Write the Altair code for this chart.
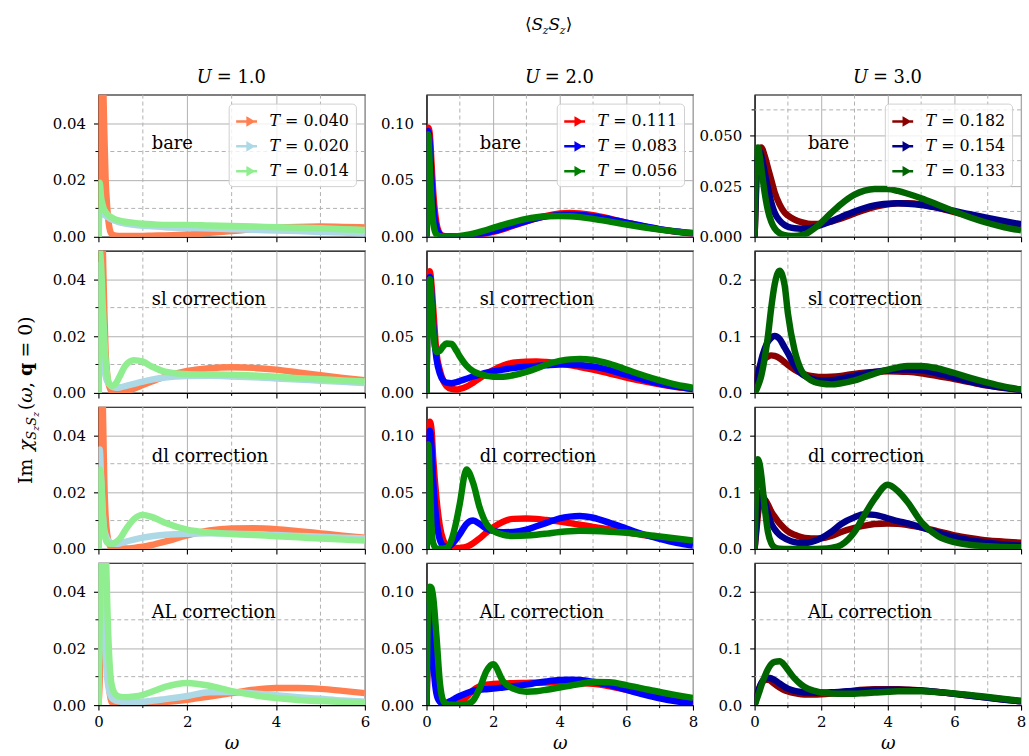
import altair as alt
import pandas as pd

FONT = "DejaVu Serif"
PANEL_W, PANEL_H = 268, 143
GRID = "#b0b0b0"

# ---- frequency grids -------------------------------------------------------
W_U1 = [0, 0.03, 0.06, 0.1, 0.13, 0.16, 0.2, 0.25, 0.3, 0.4, 0.5, 0.6, 0.8, 1.0,
        1.2, 1.5, 2.0, 2.5, 3.0, 3.5, 4.0, 4.5, 5.0, 5.5, 6.0]
W_U23 = [0, 0.05, 0.1, 0.15, 0.2, 0.3, 0.4, 0.5, 0.6, 0.75, 0.9, 1.0, 1.2, 1.4,
         1.6, 1.8, 2.0, 2.3, 2.6, 3.0, 3.3, 3.6, 4.0, 4.3, 4.6, 5.0, 5.5, 6.0,
         6.5, 7.0, 7.5, 8.0]

# ---- temperatures and colours per U ----------------------------------------
T_U1 = ["0.040", "0.020", "0.014"]
T_U2 = ["0.111", "0.083", "0.056"]
T_U3 = ["0.182", "0.154", "0.133"]
C_U1 = ["#ff7f50", "#add8e6", "#90ee90"]
C_U2 = ["#ff0000", "#0000ff", "#008000"]
C_U3 = ["#8b0000", "#00008b", "#006400"]

# ---- U = 1.0 ----------------------------------------------------------------
bare_u1_t040 = [0, 0.03, 0.08, 0.06, 0.038, 0.021, 0.01, 0.003, 0.001, 0.0004, 0.0003, 0.0003, 0.0003,
                0.0003, 0.0004, 0.0005, 0.0008, 0.0014, 0.002, 0.0027, 0.0032, 0.0035, 0.0036, 0.0035, 0.0033]
bare_u1_t020 = [0, 0.009, 0.0088, 0.0082, 0.0078, 0.0074, 0.007, 0.0065, 0.0061, 0.0055, 0.005, 0.0047,
                0.0042, 0.0039, 0.0037, 0.0034, 0.0031, 0.0029, 0.0027, 0.0025, 0.0022, 0.002, 0.0017, 0.0015, 0.0012]
bare_u1_t014 = [0, 0.019, 0.014, 0.011, 0.0095, 0.0088, 0.008, 0.0073, 0.0068, 0.006, 0.0056, 0.0053,
                0.0049, 0.0046, 0.0044, 0.0042, 0.0042, 0.004, 0.0038, 0.0036, 0.0034, 0.0032, 0.003, 0.0027, 0.0024]

sl_u1_t040 = [0, 0.04, 0.09, 0.05, 0.03, 0.015, 0.006, 0.002, 0.0005, 0.0002, 0.0003, 0.0006, 0.0015,
              0.0028, 0.004, 0.0057, 0.0077, 0.0087, 0.009, 0.0088, 0.0082, 0.0072, 0.0062, 0.0053, 0.0045]
sl_u1_t020 = [0, 0.045, 0.03, 0.015, 0.009, 0.006, 0.004, 0.003, 0.0022, 0.0018, 0.002, 0.0024, 0.0032,
              0.004, 0.0047, 0.0054, 0.0059, 0.006, 0.0058, 0.0055, 0.0051, 0.0047, 0.0043, 0.0039, 0.0035]
sl_u1_t014 = [0, 0.05, 0.045, 0.03, 0.02, 0.012, 0.006, 0.003, 0.0025, 0.0035, 0.0065, 0.0095, 0.0115,
              0.011, 0.0093, 0.0075, 0.0066, 0.0065, 0.0064, 0.0061, 0.0057, 0.0052, 0.0048, 0.0044, 0.004]

dl_u1_t040 = [0, 0.04, 0.09, 0.05, 0.025, 0.012, 0.005, 0.0015, 0.0005, 0.0002, 0.0002, 0.0002, 0.0004,
              0.0008, 0.0014, 0.0026, 0.0048, 0.0065, 0.0072, 0.0073, 0.007, 0.0063, 0.0055, 0.0047, 0.004]
dl_u1_t020 = [0, 0.035, 0.025, 0.012, 0.007, 0.005, 0.0035, 0.0025, 0.002, 0.0018, 0.002, 0.0025, 0.0033,
              0.004, 0.0045, 0.005, 0.0054, 0.0055, 0.0054, 0.0052, 0.0049, 0.0046, 0.0043, 0.004, 0.0037]
dl_u1_t014 = [0, 0.028, 0.025, 0.012, 0.006, 0.0035, 0.0022, 0.0018, 0.0018, 0.0025, 0.004, 0.0065, 0.0105,
              0.012, 0.0113, 0.0092, 0.0068, 0.0058, 0.0053, 0.0049, 0.0045, 0.0041, 0.0037, 0.0033, 0.003]

al_u1_t040 = [0, 0.01, 0.04, 0.08, 0.07, 0.045, 0.02, 0.005, 0.001, 0.0002, 0.0001, 0.0001, 0.0002,
              0.0004, 0.0007, 0.0011, 0.0019, 0.003, 0.0042, 0.0054, 0.006, 0.006, 0.0057, 0.005, 0.0042]
al_u1_t020 = [0, 0.06, 0.07, 0.05, 0.03, 0.018, 0.009, 0.0045, 0.0025, 0.0015, 0.0012, 0.0011, 0.0011,
              0.0012, 0.0015, 0.0021, 0.0032, 0.0045, 0.0046, 0.0041, 0.0035, 0.0028, 0.0022, 0.0016, 0.0012]
al_u1_t014 = [0, 0.03, 0.06, 0.08, 0.075, 0.06, 0.035, 0.015, 0.007, 0.0035, 0.0029, 0.0028, 0.003,
              0.0036, 0.0047, 0.0064, 0.0078, 0.0068, 0.0049, 0.0035, 0.0025, 0.0018, 0.0014, 0.0011, 0.0009]

# ---- U = 2.0 ----------------------------------------------------------------
bare_u2_t111 = [0, 0.096, 0.09, 0.065, 0.04, 0.012, 0.003, 0.0008, 0.0003, 0.0002, 0.0002, 0.0003, 0.0006,
                0.0012, 0.002, 0.003, 0.0043, 0.0068, 0.0097, 0.0135, 0.0163, 0.0185, 0.0205, 0.021, 0.0205,
                0.019, 0.016, 0.0125, 0.0093, 0.0066, 0.0045, 0.003]
bare_u2_t083 = [0, 0.093, 0.08, 0.05, 0.028, 0.008, 0.002, 0.0006, 0.0003, 0.0002, 0.0002, 0.0003, 0.0007,
                0.0014, 0.0024, 0.0036, 0.005, 0.0075, 0.0103, 0.0138, 0.0162, 0.018, 0.0193, 0.0196, 0.0192,
                0.018, 0.0155, 0.0125, 0.0095, 0.0068, 0.0047, 0.0032]
bare_u2_t056 = [0, 0.09, 0.06, 0.03, 0.012, 0.002, 0.0005, 0.0002, 0.0002, 0.0003, 0.0005, 0.0008, 0.0016,
                0.0028, 0.0043, 0.006, 0.0078, 0.0105, 0.013, 0.0158, 0.0172, 0.0181, 0.0184, 0.0181, 0.0173,
                0.0158, 0.0134, 0.0108, 0.0084, 0.0063, 0.0046, 0.0033]

sl_u2_t111 = [0, 0.1, 0.107, 0.095, 0.075, 0.035, 0.02, 0.011, 0.006, 0.0035, 0.003, 0.0035, 0.0055,
              0.009, 0.013, 0.017, 0.02, 0.024, 0.0265, 0.0275, 0.0277, 0.0272, 0.026, 0.0245, 0.0228,
              0.0205, 0.017, 0.0135, 0.0103, 0.0075, 0.0052, 0.0035]
sl_u2_t083 = [0, 0.095, 0.102, 0.085, 0.06, 0.03, 0.017, 0.011, 0.009, 0.0085, 0.0095, 0.0105, 0.0125,
              0.0145, 0.0162, 0.0178, 0.019, 0.0205, 0.0218, 0.023, 0.0238, 0.0244, 0.025, 0.025, 0.0245,
              0.0232, 0.02, 0.0158, 0.0118, 0.0083, 0.0055, 0.0035]
sl_u2_t056 = [0, 0.095, 0.1, 0.08, 0.055, 0.036, 0.037, 0.041, 0.0435, 0.043, 0.037, 0.032, 0.024,
              0.019, 0.0165, 0.015, 0.0143, 0.0142, 0.0155, 0.0185, 0.0215, 0.025, 0.0282, 0.0295, 0.0298,
              0.029, 0.0255, 0.0205, 0.0155, 0.011, 0.0072, 0.0045]

dl_u2_t111 = [0, 0.09, 0.112, 0.105, 0.08, 0.044, 0.02, 0.008, 0.003, 0.001, 0.0008, 0.001, 0.002,
              0.005, 0.0095, 0.0145, 0.019, 0.024, 0.0265, 0.0268, 0.0265, 0.0255, 0.0242, 0.0228, 0.0213,
              0.0195, 0.0172, 0.0148, 0.0123, 0.0102, 0.0082, 0.0065]
dl_u2_t083 = [0, 0.09, 0.104, 0.09, 0.06, 0.025, 0.008, 0.003, 0.002, 0.004, 0.009, 0.013, 0.022,
              0.025, 0.022, 0.018, 0.016, 0.0148, 0.015, 0.017, 0.02, 0.023, 0.027, 0.0285, 0.029,
              0.0275, 0.023, 0.018, 0.013, 0.009, 0.0055, 0.003]
dl_u2_t056 = [0, 0.092, 0.06, 0.02, 0.005, 0.0005, 0.0002, 0.0003, 0.0008, 0.008, 0.025, 0.04, 0.07,
              0.058, 0.036, 0.022, 0.016, 0.0125, 0.0115, 0.0118, 0.0125, 0.0135, 0.015, 0.0157, 0.016,
              0.0158, 0.0152, 0.0143, 0.0128, 0.011, 0.0092, 0.0075]

al_u2_t111 = [0, 0.06, 0.09, 0.08, 0.05, 0.015, 0.004, 0.001, 0.0005, 0.0005, 0.001, 0.002, 0.007,
              0.013, 0.0165, 0.018, 0.0185, 0.019, 0.0193, 0.0195, 0.0197, 0.0198, 0.0198, 0.0197, 0.0193,
              0.0187, 0.0165, 0.0135, 0.0102, 0.0072, 0.0045, 0.0025]
al_u2_t083 = [0, 0.07, 0.09, 0.07, 0.04, 0.01, 0.003, 0.0015, 0.002, 0.004, 0.0065, 0.008, 0.0105,
              0.0125, 0.0135, 0.014, 0.0145, 0.0155, 0.0165, 0.018, 0.0195, 0.0208, 0.022, 0.0222, 0.022,
              0.0205, 0.0175, 0.0135, 0.0095, 0.006, 0.0033, 0.0015]
al_u2_t056 = [0, 0.09, 0.104, 0.103, 0.095, 0.06, 0.02, 0.004, 0.001, 0.0003, 0.0002, 0.0003, 0.0008,
              0.004, 0.015, 0.03, 0.036, 0.021, 0.0145, 0.0118, 0.0122, 0.0135, 0.0155, 0.017, 0.0185,
              0.0203, 0.02, 0.0175, 0.0145, 0.0115, 0.0088, 0.0063]

# ---- U = 3.0 ----------------------------------------------------------------
bare_u3_t182 = [0, 0.025, 0.038, 0.043, 0.044, 0.04, 0.034, 0.028, 0.022, 0.016, 0.012, 0.0105, 0.0085,
                0.0072, 0.0065, 0.0063, 0.0065, 0.0075, 0.009, 0.0115, 0.0133, 0.0148, 0.016, 0.0165, 0.0165,
                0.016, 0.0143, 0.0122, 0.0102, 0.0085, 0.007, 0.0058]
bare_u3_t154 = [0, 0.03, 0.04, 0.042, 0.04, 0.032, 0.024, 0.017, 0.012, 0.008, 0.0058, 0.005, 0.0042,
                0.004, 0.0042, 0.0048, 0.0058, 0.0077, 0.0098, 0.0125, 0.0142, 0.0155, 0.0163, 0.0165, 0.0163,
                0.0157, 0.0143, 0.0127, 0.011, 0.0093, 0.0077, 0.0062]
bare_u3_t133 = [0, 0.04, 0.044, 0.04, 0.034, 0.022, 0.013, 0.0075, 0.0042, 0.0018, 0.0008, 0.0005, 0.0004,
                0.0008, 0.002, 0.0042, 0.007, 0.0118, 0.0162, 0.0208, 0.0228, 0.0236, 0.0235, 0.0226, 0.0212,
                0.019, 0.0158, 0.0125, 0.0094, 0.0068, 0.0047, 0.0032]

sl_u3_t182 = [0, 0.02, 0.035, 0.045, 0.052, 0.06, 0.064, 0.066, 0.065, 0.061, 0.054, 0.049, 0.041,
              0.035, 0.031, 0.029, 0.028, 0.0285, 0.03, 0.0335, 0.0355, 0.037, 0.038, 0.0378, 0.037,
              0.0345, 0.0295, 0.0245, 0.0185, 0.0128, 0.0085, 0.0055]
sl_u3_t154 = [0, 0.015, 0.03, 0.045, 0.058, 0.077, 0.09, 0.097, 0.1, 0.095, 0.08, 0.07, 0.048,
              0.034, 0.027, 0.0235, 0.022, 0.0222, 0.025, 0.03, 0.034, 0.037, 0.04, 0.041, 0.041,
              0.04, 0.034, 0.027, 0.0195, 0.0135, 0.0088, 0.0055]
sl_u3_t133 = [0, 0.005, 0.012, 0.02, 0.03, 0.06, 0.1, 0.15, 0.19, 0.215, 0.19, 0.14, 0.075,
              0.04, 0.026, 0.019, 0.0165, 0.015, 0.017, 0.022, 0.028, 0.034, 0.041, 0.045, 0.0475,
              0.0475, 0.043, 0.035, 0.026, 0.018, 0.011, 0.006]

dl_u3_t182 = [0, 0.03, 0.06, 0.08, 0.086, 0.087, 0.078, 0.066, 0.057, 0.045, 0.036, 0.031, 0.025,
              0.021, 0.019, 0.0185, 0.019, 0.023, 0.03, 0.037, 0.041, 0.044, 0.045, 0.0445, 0.042,
              0.038, 0.031, 0.024, 0.019, 0.015, 0.013, 0.011]
dl_u3_t154 = [0, 0.04, 0.08, 0.097, 0.1, 0.085, 0.062, 0.045, 0.035, 0.025, 0.019, 0.016, 0.012,
              0.0105, 0.011, 0.014, 0.019, 0.03, 0.044, 0.056, 0.061, 0.06, 0.054, 0.049, 0.045,
              0.038, 0.029, 0.021, 0.015, 0.011, 0.008, 0.006]
dl_u3_t133 = [0, 0.12, 0.158, 0.15, 0.13, 0.075, 0.03, 0.01, 0.003, 0.0005, 0.0001, 0, 0,
              0, 0, 0.0002, 0.0005, 0.002, 0.007, 0.03, 0.06, 0.088, 0.113, 0.102, 0.082,
              0.048, 0.023, 0.012, 0.007, 0.005, 0.0035, 0.003]

al_u3_t182 = [0, 0.012, 0.022, 0.031, 0.038, 0.044, 0.045, 0.042, 0.037, 0.031, 0.026, 0.024, 0.021,
              0.019, 0.0185, 0.0185, 0.019, 0.0205, 0.0225, 0.0255, 0.027, 0.0278, 0.028, 0.0277, 0.027,
              0.0255, 0.023, 0.0198, 0.0165, 0.0132, 0.0098, 0.0065]
al_u3_t154 = [0, 0.012, 0.022, 0.031, 0.038, 0.046, 0.048, 0.047, 0.044, 0.038, 0.032, 0.029, 0.025,
              0.023, 0.022, 0.0218, 0.022, 0.0225, 0.0235, 0.025, 0.026, 0.0265, 0.027, 0.027, 0.0265,
              0.0255, 0.023, 0.0198, 0.0165, 0.013, 0.0095, 0.0065]
al_u3_t133 = [0, 0.008, 0.016, 0.025, 0.034, 0.05, 0.063, 0.072, 0.076, 0.077, 0.07, 0.062, 0.047,
              0.036, 0.029, 0.025, 0.022, 0.0205, 0.0198, 0.02, 0.021, 0.022, 0.0235, 0.0243, 0.0245,
              0.0243, 0.0228, 0.0205, 0.0175, 0.0142, 0.0108, 0.0075]

ROW_NAMES = ["bare", "sl correction", "dl correction", "AL correction"]

CURVES = {
    (0, 0): [bare_u1_t040, bare_u1_t020, bare_u1_t014],
    (1, 0): [sl_u1_t040, sl_u1_t020, sl_u1_t014],
    (2, 0): [dl_u1_t040, dl_u1_t020, dl_u1_t014],
    (3, 0): [al_u1_t040, al_u1_t020, al_u1_t014],
    (0, 1): [bare_u2_t111, bare_u2_t083, bare_u2_t056],
    (1, 1): [sl_u2_t111, sl_u2_t083, sl_u2_t056],
    (2, 1): [dl_u2_t111, dl_u2_t083, dl_u2_t056],
    (3, 1): [al_u2_t111, al_u2_t083, al_u2_t056],
    (0, 2): [bare_u3_t182, bare_u3_t154, bare_u3_t133],
    (1, 2): [sl_u3_t182, sl_u3_t154, sl_u3_t133],
    (2, 2): [dl_u3_t182, dl_u3_t154, dl_u3_t133],
    (3, 2): [al_u3_t182, al_u3_t154, al_u3_t133],
}

COLS = [
    dict(u="1.0", grid=W_U1, xmax=6, xmajor=[0, 2, 4, 6], xminor=[1, 3, 5], temps=T_U1, colors=C_U1),
    dict(u="2.0", grid=W_U23, xmax=8, xmajor=[0, 2, 4, 6, 8], xminor=[1, 3, 5, 7], temps=T_U2, colors=C_U2),
    dict(u="3.0", grid=W_U23, xmax=8, xmajor=[0, 2, 4, 6, 8], xminor=[1, 3, 5, 7], temps=T_U3, colors=C_U3),
]


def y_layout(r, c):
    """(upper limit, major ticks, minor ticks, label format) of a panel's y axis."""
    if c == 0:
        return 0.05, [0, 0.02, 0.04], [0.01, 0.03], ".2f"
    if c == 1:
        return 0.125, [0, 0.05, 0.10], [0.025, 0.075], ".2f"
    if r == 0:
        return 0.07, [0, 0.025, 0.05], [0.0125, 0.0375, 0.0625], ".3f"
    return 0.25, [0, 0.1, 0.2], [0.05, 0.15], ".1f"


def rich_text(pieces, x, y, angle=0):
    """Text built from styled pieces sharing one anchor; each piece is
    (text, size, style, weight, baseline shift, advance to the next piece)."""
    layers, off = [], 0.0
    for txt, size, style, weight, shift, adv in pieces:
        layers.append(
            alt.Chart(pd.DataFrame({"s": [txt]}))
            .mark_text(align="left", baseline="alphabetic", font=FONT, fontSize=size,
                       fontStyle=style, fontWeight=weight, angle=angle, dx=off, dy=shift,
                       color="black")
            .encode(x=alt.value(x), y=alt.value(y), text="s:N")
        )
        off += adv
    return layers


def column_title(u):
    pieces = [("U", 18, "italic", "normal", 0, 20), ("= " + u, 18, "normal", "normal", 0, 50)]
    return rich_text(pieces, PANEL_W / 2 - 35, -12)


def main_title():
    pieces = [("⟨", 17, "normal", "normal", 0, 6.6), ("S", 17, "italic", "normal", 0, 11.2),
              ("z", 11, "italic", "normal", 4, 6.0), ("S", 17, "italic", "normal", 0, 11.2),
              ("z", 11, "italic", "normal", 4, 6.0), ("⟩", 17, "normal", "normal", 0, 6.6)]
    return rich_text(pieces, 123 - 24, -65)


def y_title():
    pieces = [("Im", 19, "normal", "normal", 0, 33), ("χ", 19, "italic", "normal", 0, 11.5),
              ("S", 13, "italic", "normal", 4, 9), ("z", 9, "italic", "normal", 7, 5),
              ("S", 13, "italic", "normal", 4, 9), ("z", 9, "italic", "normal", 7, 6.5),
              ("(", 19, "normal", "normal", 0, 7.5), ("ω", 19, "italic", "normal", 0, 15),
              (",", 19, "normal", "normal", 0, 12), ("q", 19, "normal", "bold", 0, 18.5),
              ("= 0)", 19, "normal", "normal", 0, 42)]
    total = sum(p[5] for p in pieces)
    # centred between the second and third rows of panels
    return rich_text(pieces, -67, PANEL_H + 7 + total / 2, angle=270)


def make_panel(r, c):
    spec = COLS[c]
    ytop, ymajor, yminor, yfmt = y_layout(r, c)
    labels = ["𝑇 = " + t for t in spec["temps"]]
    bottom = r == 3

    xscale = alt.Scale(domain=[0, spec["xmax"]], nice=False, zero=False)
    yscale = alt.Scale(domain=[0, ytop], nice=False, zero=False)
    xaxis = alt.Axis(values=spec["xmajor"], format="d", labels=bottom, labelFlush=False, grid=True)
    yaxis = alt.Axis(values=ymajor, format=yfmt, labelFlush=False, grid=True)

    def X():
        return alt.X("w:Q", scale=xscale, axis=xaxis, title="ω" if bottom else None)

    def Y():
        return alt.Y("v:Q", scale=yscale, axis=yaxis, title=None)

    xminor_df = pd.DataFrame({"w": spec["xminor"]})
    yminor_df = pd.DataFrame({"v": yminor})

    grid_x = alt.Chart(xminor_df).mark_rule(color=GRID, strokeWidth=1, strokeDash=[4, 3]).encode(x=X())
    grid_y = alt.Chart(yminor_df).mark_rule(color=GRID, strokeWidth=1, strokeDash=[4, 3]).encode(y=Y())
    tick_x = alt.Chart(xminor_df).mark_rule(color="black", strokeWidth=1).encode(
        x=X(), y=alt.value(PANEL_H), y2=alt.value(PANEL_H + 3))
    tick_y = alt.Chart(yminor_df).mark_rule(color="black", strokeWidth=1).encode(
        y=Y(), x=alt.value(-3), x2=alt.value(0))

    if r == 0:
        legend = alt.Legend(
            title=None, orient="top-right", offset=9, padding=6, rowPadding=4,
            labelFont=FONT, labelFontSize=16, labelColor="black", labelOffset=11, labelLimit=200,
            symbolType="M-1,0H1M0.1,-0.3L0.6,0L0.1,0.3Z", symbolSize=440, symbolStrokeWidth=2.5,
            strokeColor="#d0d0d0", fillColor="rgba(255,255,255,0.8)", cornerRadius=4)
    else:
        legend = None
    color = alt.Color("T:N", scale=alt.Scale(domain=labels, range=spec["colors"]), legend=legend)

    lines = []
    for vals, lab in zip(CURVES[(r, c)], labels):
        df = pd.DataFrame({"w": spec["grid"], "v": vals, "T": lab})
        lines.append(
            alt.Chart(df)
            .mark_line(strokeWidth=6.5, interpolate="monotone", clip=True, strokeJoin="round")
            .encode(x=X(), y=Y(), color=color)
        )

    note = alt.Chart(pd.DataFrame({"w": [0.2 * spec["xmax"]], "v": [0.65 * ytop], "s": [ROW_NAMES[r]]})).mark_text(
        align="left", baseline="middle", font=FONT, fontSize=18, color="black"
    ).encode(x=X(), y=Y(), text="s:N")

    extras = []
    if r == 0:
        extras += column_title(spec["u"])
    if r == 0 and c == 1:
        extras += main_title()
    if r == 1 and c == 0:
        extras += y_title()

    return alt.layer(grid_x, grid_y, *lines, note, tick_x, tick_y, *extras).properties(
        width=PANEL_W, height=PANEL_H)


panels = [make_panel(r, c) for r in range(4) for c in range(3)]

chart = (
    alt.concat(*panels, columns=3, spacing={"row": 14, "column": 62}, bounds="flush")
    .resolve_scale(x="independent", y="independent", color="independent")
    .resolve_legend(color="independent")
    .properties(padding={"left": 16, "top": 13, "right": 2, "bottom": 2}, background="white")
    .configure_view(stroke="black", strokeWidth=1.1)
    .configure_axis(
        domainColor="black", domainWidth=1.1, tickColor="black", tickWidth=1.1, tickSize=5,
        labelFont=FONT, labelFontSize=15, labelColor="black", gridColor=GRID, gridWidth=1,
        titleFont=FONT, titleFontSize=18, titleFontStyle="italic", titleFontWeight="normal",
        titleColor="black", titlePadding=5)
    .configure_axisX(labelPadding=5)
    .configure_axisY(labelPadding=8)
)

chart.save("out.html", embed_options={"renderer": "svg", "actions": False})
